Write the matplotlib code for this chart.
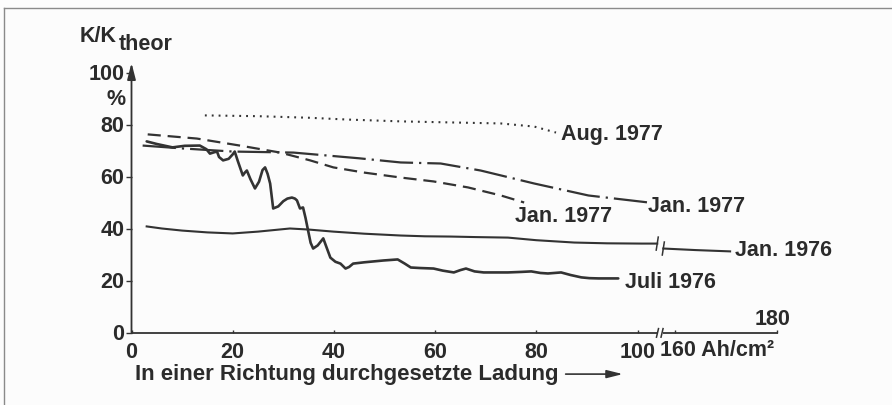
import matplotlib
matplotlib.use("Agg")
import matplotlib.pyplot as plt

plt.rcParams['font.family'] = ['Liberation Sans', 'DejaVu Sans']
plt.rcParams['font.weight'] = 'bold'

INK = '#2b2b2b'
LINE = '#333333'
FS = 15.5

# ---- data (real x in Ah/cm^2, y in % of K_theor) ----
aug77_x = [14.5, 25, 35, 42.7, 53.2, 63, 73, 79.6, 83.9]
aug77_y = [83.5, 83.2, 82.6, 81.9, 81.2, 80.8, 80.4, 79.2, 76.9]

jan77a_x = [3.2, 12.9, 21.4, 29.4, 35.3, 39.9, 46, 53.2, 59.7, 66.5, 73, 77.6]
jan77a_y = [76.2, 74.6, 71.9, 69.2, 66.2, 63.5, 61.5, 59.6, 58.1, 55.8, 52.7, 50.0]

jan77b_x = [2.2, 10, 20, 32, 45, 53.2, 61.1, 69, 79.6, 90.3, 102.2]
jan77b_y = [71.9, 70.8, 69.6, 69.2, 67.0, 65.4, 65.0, 62.3, 57.3, 52.7, 50.0]

jan76_x = [3.0, 6, 10, 15, 20, 25, 31.3, 35, 39.9, 46, 53.2, 58, 63.1, 68, 74.4,
           80, 87.5, 94, 100.8, 103.9]
jan76_y = [40.8, 40.0, 39.2, 38.5, 38.1, 38.8, 40.0, 39.6, 38.8, 38.0, 37.3, 37.0,
           36.9, 36.7, 36.5, 35.5, 34.6, 34.3, 34.2, 34.2]
jan76b_x = [157.6, 164, 170.8]
jan76b_y = [32.3, 31.7, 31.2]

juli76_x = [3.0, 5, 8.1, 10.5, 13.5, 14.8, 15.5, 16.3, 16.9, 17.3, 18.1, 19.2, 20.0,
            20.4, 21.0, 22.0, 22.4, 22.8, 23.5, 24.4, 25.2, 25.9, 26.4, 26.9, 27.4,
            28.0, 29.0, 30.0, 30.8, 31.7, 32.3, 32.7, 33.3, 33.9, 34.4, 34.9, 35.4,
            35.9, 36.8, 37.9, 38.5, 39.3, 40.3, 41.3, 42.3, 43.0, 43.8, 46, 49.8,
            52.6, 54, 55.2, 57, 59.7, 61.5, 63.7, 65, 66.1, 67.8, 69.6, 72, 74.4, 77,
            79.0, 80.8, 82.3, 84.9, 86.8, 88.9, 90.5, 92.3, 96.2]
juli76_y = [73.5, 72.5, 71.2, 71.8, 71.9, 70.5, 68.8, 69.3, 69.6, 67.5, 66.2, 66.8, 68.5,
            69.6, 66.0, 60.4, 61.5, 62.3, 59.0, 55.4, 58.0, 62.5, 63.5, 61.0, 57.3,
            47.7, 48.5, 50.5, 51.5, 51.9, 51.5, 50.8, 47.7, 48.1, 44.0, 39.2, 34.5,
            32.3, 33.5, 36.2, 33.0, 28.8, 27.2, 26.5, 24.6, 25.2, 26.5, 27.0, 27.7,
            28.1, 26.5, 25.0, 24.8, 24.6, 23.8, 23.1, 24.0, 24.6, 23.5, 23.1, 23.1, 23.1, 23.3,
            23.5, 22.9, 22.7, 23.1, 22.1, 21.2, 20.9, 20.8, 20.8]

xticks_lo = [0, 20, 40, 60, 80, 100]
xticks_hi = [160, 180]
yticks = [0, 20, 40, 60, 80, 100]

BREAK_OFFSET = 52.5  # real x >= 150 shown shifted left (broken axis)


def bx(vals):
    return [v - BREAK_OFFSET if v >= 150 else v for v in vals]


fig = plt.figure(figsize=(8.92, 4.05), dpi=100)
fig.patch.set_facecolor('#fcfcfc')

# frame lines of the scanned page
fig.add_artist(plt.Line2D([4 / 892, 1], [1 - 8 / 405] * 2, color='#8a8a8a', lw=1.0))
fig.add_artist(plt.Line2D([4 / 892] * 2, [0, 1 - 8 / 405], color='#8a8a8a', lw=1.0))

ax = fig.add_axes([131.5 / 892, 72.5 / 405, 657.8 / 892, 273 / 405])
ax.set_facecolor('none')
ax.set_xlim(0, 130)
ax.set_ylim(0, 105)
for s in ax.spines.values():
    s.set_visible(False)

# axes lines
ax.annotate('', xy=(0, 103.7), xytext=(0, 0), xycoords='data',
            arrowprops=dict(arrowstyle='-|>,head_length=0.7,head_width=0.18',
                            lw=1.3, color=LINE, shrinkA=0, shrinkB=0,
                            mutation_scale=14), annotation_clip=False)
ax.plot([0, 103.9], [0, 0], color=LINE, lw=1.3, clip_on=False, solid_capstyle='butt')
ax.plot([105.0, bx([180])[0] + 0.3], [0, 0], color=LINE, lw=1.3, clip_on=False,
        solid_capstyle='butt')
for xb in (103.9, 104.8):
    ax.plot([xb - 0.15, xb + 0.25], [-1.8, 1.5], color=LINE, lw=1.1, clip_on=False)

# ticks
ax.set_xticks(xticks_lo + bx(xticks_hi))
ax.set_xticklabels([str(v) for v in xticks_lo] + ['', ''])
ax.tick_params(axis='x', direction='in', length=2.5, width=1.0, color=LINE,
               pad=7, labelsize=FS, labelcolor=INK)
ax.set_yticks(yticks)
ax.set_yticklabels([str(v) for v in yticks])
ax.tick_params(axis='y', direction='out', length=4, width=1.0, color=LINE,
               pad=1, labelsize=FS, labelcolor=INK)

# curves
ax.plot(aug77_x, aug77_y, color=LINE, lw=1.5, linestyle=(0, (0.9, 2.4)), clip_on=False)
ax.plot(jan77a_x, jan77a_y, color=LINE, lw=1.6, linestyle=(0, (5.9, 3.1)), clip_on=False)
ax.plot(jan77b_x, jan77b_y, color=LINE, lw=1.6, linestyle=(0, (15, 2.7, 1, 2.7)),
        clip_on=False)
ax.plot(jan76_x, jan76_y, color=LINE, lw=1.5, clip_on=False, solid_joinstyle='round')
ax.plot(bx(jan76b_x), jan76b_y, color=LINE, lw=1.5, clip_on=False)
for xb, yb in ((bx([jan76_x[-1]])[0], jan76_y[-1]), (bx([jan76b_x[0]])[0], jan76b_y[0])):
    ax.plot([xb - 0.2, xb + 0.2], [yb - 2.5, yb + 2.5], color=LINE, lw=1.1, clip_on=False)
ax.plot(juli76_x, juli76_y, color=LINE, lw=1.9, clip_on=False, solid_joinstyle='round',
        solid_capstyle='round')

# curve labels
kw = dict(fontsize=FS, color=INK, va='center', ha='left')
ax.text(84.9, 76.0, 'Aug. 1977', **kw)
ax.text(75.8, 44.6, 'Jan. 1977', **kw)
ax.text(102.1, 48.5, 'Jan. 1977', **kw)
ax.text(119.3, 31.5, 'Jan. 1976', **kw)
ax.text(97.5, 19.2, 'Juli 1976', **kw)

# broken-axis tick labels
ax.text(104.4, -6.9, '160 Ah/cm²', **kw)
ax.text(bx([180])[0] - 0.8, 5.0, '180', fontsize=FS, color=INK, va='center', ha='center')

# axis titles
ax.text(-10.2, 111.8, 'K/K', fontsize=FS, color=INK, ha='left', va='baseline')
ax.text(-2.6, 108.7, 'theor', fontsize=FS, color=INK, ha='left', va='baseline')
ax.text(-1.2, 89.8, '%', fontsize=FS, color=INK, ha='right', va='center')
ax.text(0.7, -18.3, 'In einer Richtung durchgesetzte Ladung', fontsize=16, color=INK,
        ha='left', va='baseline')
ax.annotate('', xy=(97.1, -16.0), xytext=(85.8, -16.0),
            arrowprops=dict(arrowstyle='-|>,head_length=0.8,head_width=0.2',
                            lw=1.2, color=LINE, shrinkA=0, shrinkB=0,
                            mutation_scale=12), annotation_clip=False)

fig.savefig('out.png', dpi=100, facecolor=fig.get_facecolor())
